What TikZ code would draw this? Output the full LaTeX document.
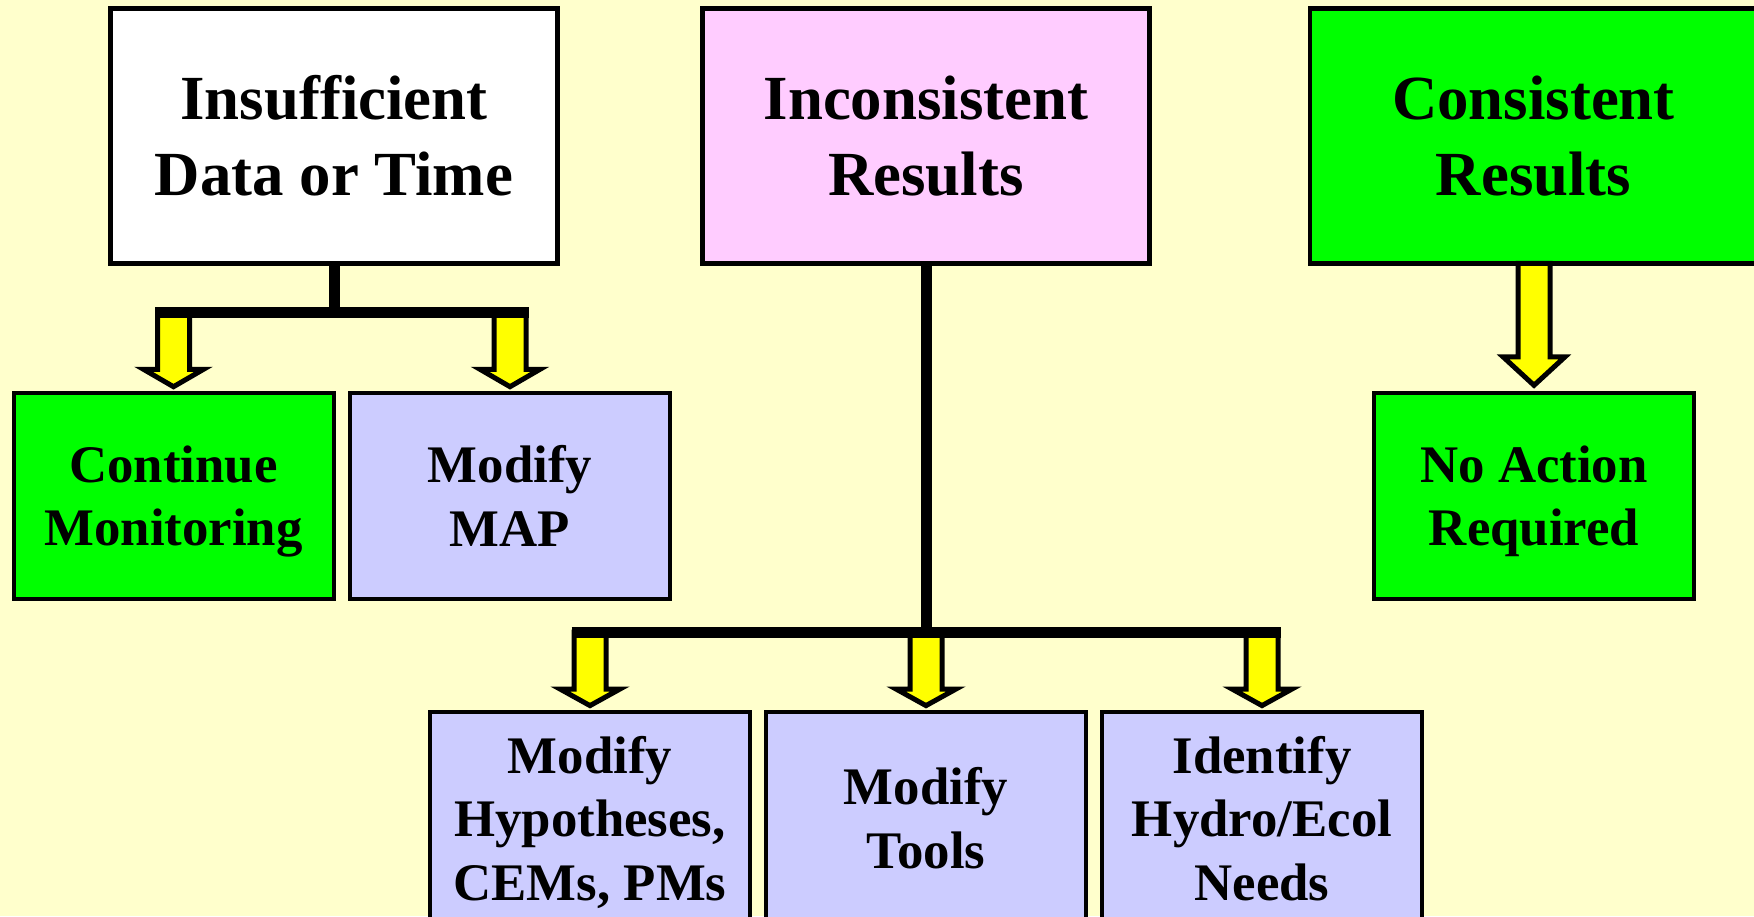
\documentclass[tikz,border=0pt]{standalone}
\usepackage{fontspec}
\setmainfont{Liberation Serif}
\usetikzlibrary{calc}

\definecolor{bgyellow}{HTML}{FFFFCC}
\definecolor{boxgreen}{HTML}{00FF00}
\definecolor{boxpink}{HTML}{FFCCFF}
\definecolor{boxlav}{HTML}{CCCCFF}
\definecolor{arrowyellow}{HTML}{FFFF00}

% Block arrow from the y level of #1 down to the top of node #2.
% #3 = head length, #4 = head half width, #5 = gap above the target box
\newcommand\blockarrow[5]{%
  \path let \p1=(#1), \p2=(#2.north) in
    [fill=arrowyellow, draw=black, line width=2.5pt]
    (\x2-8pt,\y1) -- (\x2-8pt,\y2+#5+#3) -- (\x2-#4,\y2+#5+#3)
    -- (\x2,\y2+#5) -- (\x2+#4,\y2+#5+#3) -- (\x2+8pt,\y2+#5+#3)
    -- (\x2+8pt,\y1) -- cycle;%
}

\begin{document}
\begin{tikzpicture}[x=0.5pt, y=-0.5pt,
  box/.style={draw=black, inner sep=0pt, outer sep=0pt,
    align=center, text=black, text depth=0pt},
  bigbox/.style={box, line width=2.3pt, minimum width=223.5pt, minimum height=127.5pt,
    font={\fontsize{31.4}{38}\selectfont\bfseries}},
  smallbox/.style={box, line width=2pt, minimum width=160pt, minimum height=103.3pt,
    font={\fontsize{26.4}{31.6}\selectfont\bfseries}},
  lowbox/.style={box, line width=2pt, minimum width=160pt, minimum height=106pt,
    font={\fontsize{26.4}{31.8}\selectfont\bfseries}},
  bar/.style={draw=black, line width=5.5pt, line cap=butt}]

\useasboundingbox (0,0) rectangle (1754,916);
\fill[bgyellow] (0,0) rectangle (1754,916);

% top row
\node[bigbox, fill=white] (ins) at (334,135.75) {Insufficient\\Data or Time};
\node[bigbox, fill=boxpink] (inc) at (926,135.75) {Inconsistent\\Results};
\node[bigbox, fill=boxgreen] (con) at (1533.5,135.75) {Consistent\\Results};

% middle row
\node[smallbox, fill=boxgreen] (cont) at (173.5,496) {Continue\\Monitoring};
\node[smallbox, fill=boxlav] (map) at (510,496) {Modify\\MAP};
\node[smallbox, fill=boxgreen] (noa) at (1534,496) {No Action\\Required};

% bottom row
\node[lowbox, fill=boxlav] (hyp) at (590,818) {Modify\\Hypotheses,\\CEMs, PMs};
\node[lowbox, fill=boxlav] (tools) at (926,818) {Modify\\Tools};
\node[lowbox, fill=boxlav] (ident) at (1262,818) {Identify\\Hydro/Ecol\\Needs};

% junctions
\coordinate (j1) at (334,312);
\coordinate (j2) at (926,632);

% arrows
\blockarrow{j1}{cont}{8.7pt}{15pt}{3pt}
\blockarrow{j1}{map}{8.7pt}{15pt}{3pt}
\blockarrow{j2}{hyp}{8.3pt}{15pt}{3.2pt}
\blockarrow{j2}{tools}{8.3pt}{15pt}{3.2pt}
\blockarrow{j2}{ident}{8.3pt}{15pt}{3.2pt}
\blockarrow{con.south}{noa}{14.25pt}{15.5pt}{3.7pt}

% branching bars
\draw[bar] (ins.south) -- (j1);
\draw[bar] ($(cont.north |- j1)+(-18.5,0)$) -- ($(map.north |- j1)+(18.5,0)$);
\draw[bar] (inc.south) -- (j2);
\draw[bar] ($(hyp.north |- j2)+(-18.5,0)$) -- ($(ident.north |- j2)+(18.5,0)$);
\end{tikzpicture}
\end{document}
